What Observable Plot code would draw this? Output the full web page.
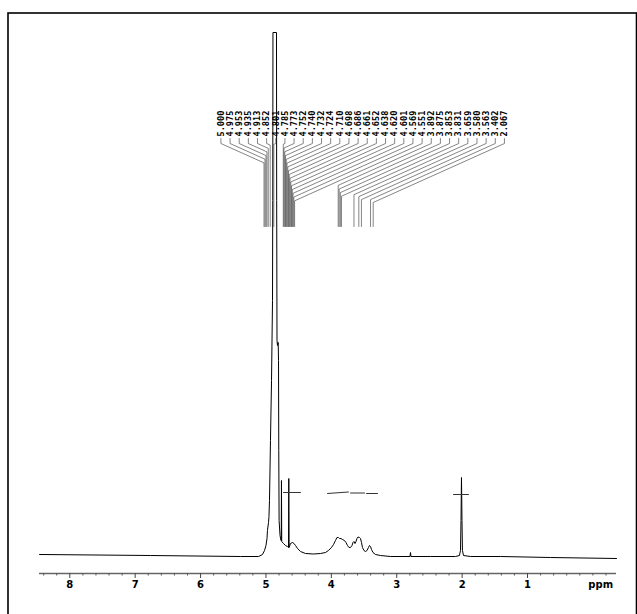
<!DOCTYPE html>
<html><head><meta charset="utf-8">
<script src="https://cdn.jsdelivr.net/npm/d3@7"></script>
<script src="https://cdn.jsdelivr.net/npm/@observablehq/plot@0.6"></script>
<style>html,body{margin:0;padding:0;background:#fff} svg{display:block}</style>
</head><body><div id="chart"></div>
<script>
// Spectrum trace (ppm, intensity above baseline)
const spectrumPpm = [8.463,6.766,5.390,5.114,5.053,5.022,5.000,4.984,4.977,4.961,4.954,4.946,4.931,4.915,4.900,4.896,4.893,4.839,4.836,4.831,4.824,4.813,4.808,4.804,4.799,4.785,4.770,4.766,4.763,4.759,4.732,4.701,4.671,4.655,4.651,4.646,4.625,4.594,4.571,4.548,4.517,4.472,4.395,4.273,4.166,4.089,4.044,3.998,3.967,3.937,3.914,3.891,3.876,3.853,3.830,3.799,3.776,3.753,3.730,3.707,3.684,3.669,3.654,3.639,3.623,3.608,3.593,3.570,3.554,3.539,3.524,3.501,3.478,3.455,3.432,3.417,3.401,3.386,3.363,3.325,3.249,3.096,2.797,2.790,2.782,2.484,2.102,2.041,2.025,2.017,2.010,2.002,1.995,1.979,1.872,1.413,0.649,-0.361];
const spectrumIntensity = [1,0,-1,-1,1,5,10,17,25,33,39,55,115,175,255,355,523,523,355,215,210,213,195,105,35,20,15,15,75,14,12,10,9,8,77,8,12,13,12,10,7,4,2,1.5,2,3,5,8,11,15,18,18,17,17,16,15,13,10,8,8,10,13,14,12,14,17,18.5,18,17,13,8,5,4,5,8,10,9,6,3,1,0,-1,-1,3,-1,-1,-1,0,5,35,78,35,5,0,-1,-1,-2,-3];

// Peak labels (ppm) and where each label's leader line drops
const peakLabels = ["5.000","4.975","4.953","4.935","4.913","4.852","4.801","4.785","4.773","4.752","4.740","4.732","4.724","4.710","4.698","4.686","4.661","4.652","4.638","4.620","4.601","4.569","4.551","3.892","3.875","3.853","3.831","3.659","3.580","3.563","3.402","2.067"];
const dropPpm = [5.030,5.015,5.000,4.985,4.965,4.935,4.880,4.735,4.724,4.712,4.701,4.689,4.678,4.666,4.655,4.643,4.632,4.620,4.609,4.597,4.586,4.574,4.562,3.895,3.880,3.862,3.845,3.654,3.580,3.540,3.401,3.360];

// Integral trace segments
const integralStartPpm = [4.732, 4.059, 3.707, 3.462, 2.132];
const integralEndPpm   = [4.472, 3.738, 3.493, 3.294, 1.903];
const integralStartLevel = [63, 62, 62.5, 62, 61];
const integralEndLevel   = [63, 63.5, 62.5, 62, 61];

// Axis ticks
const majorTicks = [8,7,6,5,4,3,2,1];
const majorTickLabels = ["8","7","6","5","4","3","2","1"];
const minorTicks = d3.range(44).map(i => +(8.4 - i*0.2).toFixed(1)).filter(t => !majorTicks.includes(t));

const axisStart = 8.463, axisEnd = -0.361;
const axisLevel = -18;

const spectrum = spectrumPpm.map((p,i) => ({ppm:p, v:spectrumIntensity[i]}));
const integrals = [];
integralStartPpm.forEach((p,i) => {
  integrals.push({k:i, ppm:p, v:integralStartLevel[i]});
  integrals.push({k:i, ppm:integralEndPpm[i], v:integralEndLevel[i]});
});

// Label slots: evenly spread across the top
const slotFirst = 5.689, slotLast = 1.353;
const labelLevel = 419, stubLevel = 412, dropEndLevel = 329;
const slots = peakLabels.map((t,i) => ({text:t, ppm: slotFirst + (slotLast-slotFirst)*i/(peakLabels.length-1), peak:dropPpm[i]}));
const connectors = [];
slots.forEach((s,i) => {
  const elbow = stubLevel - 29.4*Math.abs(s.ppm - s.peak);
  connectors.push({k:i, ppm:s.ppm, v:labelLevel-2});
  connectors.push({k:i, ppm:s.ppm, v:stubLevel});
  connectors.push({k:i, ppm:s.peak, v:elbow});
  connectors.push({k:i, ppm:s.peak, v:dropEndLevel});
});

const chart = Plot.plot({
  width: 637, height: 614,
  marginLeft: 7.5, marginTop: 12.5, marginRight: 1, marginBottom: -10,
  x: {domain:[8,0], range:[69.3, 592.4], axis:null},
  y: {domain:[0,523], range:[555,32], axis:null},
  style: {background:"#fff"},
  marks: [
    Plot.frame({stroke:"black", strokeWidth:1.6}),
    Plot.line(spectrum, {x:"ppm", y:"v", stroke:"black", strokeWidth:1}),
    Plot.line(integrals, {x:"ppm", y:"v", z:"k", stroke:"#333", strokeWidth:1}),
    Plot.line(connectors, {x:"ppm", y:"v", z:"k", stroke:"#333", strokeWidth:0.6}),
    Plot.text(slots, {x:"ppm", y:labelLevel, text:"text", rotate:-90, textAnchor:"start",
      fontFamily:"DejaVu Sans Mono", fontWeight:"bold", fontSize:8.6, fill:"black"}),
    Plot.ruleY([axisLevel], {x1:axisStart, x2:axisEnd, stroke:"#666", strokeWidth:1.4}),
    Plot.ruleX(minorTicks, {x:d=>d, y1:axisLevel, y2:axisLevel-2.5, stroke:"#555", strokeWidth:1}),
    Plot.ruleX(majorTicks, {x:d=>d, y1:axisLevel, y2:axisLevel-5, stroke:"#444", strokeWidth:1}),
    Plot.text(majorTicks, {x:d=>d, y:-29, text:(d,i)=>majorTickLabels[i], fontFamily:"DejaVu Sans", fontWeight:"bold", fontSize:10, fill:"black"}),
    Plot.text(["ppm"], {x:-0.12, y:-29, text:d=>d, fontFamily:"DejaVu Sans", fontWeight:"bold", fontSize:10, fill:"black"})
  ]
});
document.getElementById("chart").appendChild(chart);
</script>
</body></html>
